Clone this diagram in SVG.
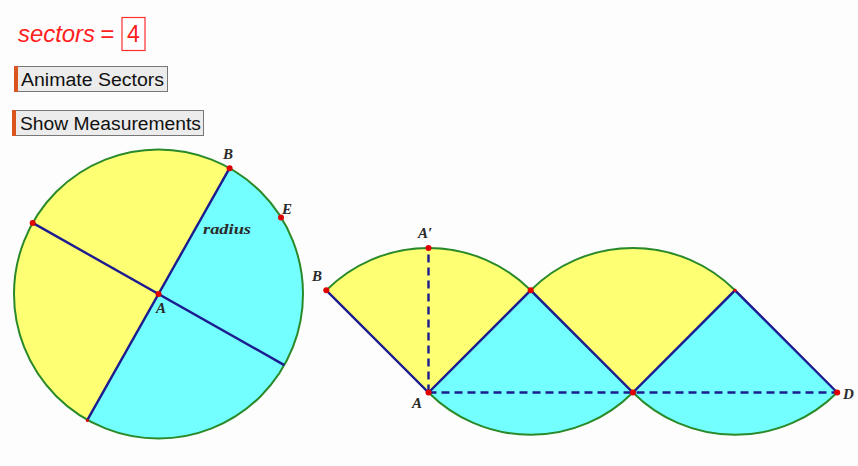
<svg xmlns="http://www.w3.org/2000/svg" width="858" height="466" viewBox="0 0 858 466">
<style>
.yel{fill:#ffff73;stroke:none}
.cyn{fill:#73ffff;stroke:none}
.arc{fill:none;stroke:#2a8a2a;stroke-width:2}
.seg{stroke:#1c1c90;stroke-width:2.4;fill:none}
.dash{stroke:#1c1c90;stroke-width:2.4;stroke-dasharray:8 5;fill:none}
.pt{fill:#e00000}
.lbl{font-family:"Liberation Serif",serif;font-style:italic;font-weight:bold;font-size:15px;fill:#2a2a2a}
.btn{fill:#ececec;stroke:#777;stroke-width:1}
.bar{fill:#d9541e}
.btxt{font-family:"Liberation Sans",Arial,sans-serif;font-size:18px;fill:#111}
</style>
<rect width="858" height="466" fill="#fdfdfd"/>
<g id="sectors-param">
<text x="18" y="42" font-family="Liberation Sans,Arial,sans-serif" font-style="italic" font-size="24" fill="#ff2020" textLength="77" lengthAdjust="spacingAndGlyphs">sectors</text>
<text x="100" y="42" font-family="Liberation Sans,Arial,sans-serif" font-style="italic" font-size="24" fill="#ff2020">=</text>
<rect x="122" y="17.5" width="23" height="33" fill="#fff" stroke="#ff3030" stroke-width="1.2"/>
<text x="133.5" y="42" text-anchor="middle" font-family="Liberation Sans,Arial,sans-serif" font-size="23" fill="#ff2020">4</text>
</g>
<g id="btn-animate">
<rect class="btn" x="14.5" y="66.5" width="153" height="25"/>
<rect class="bar" x="14" y="66" width="4" height="26"/>
<text class="btxt" x="21" y="86" textLength="143" lengthAdjust="spacingAndGlyphs">Animate Sectors</text>
</g>
<g id="btn-measure">
<rect class="btn" x="12.5" y="110.5" width="191" height="25"/>
<rect class="bar" x="12" y="110" width="4" height="26"/>
<text class="btxt" x="20" y="129.5" textLength="181" lengthAdjust="spacingAndGlyphs">Show Measurements</text>
</g>
<g id="circle">
<circle class="cyn" cx="158.5" cy="294" r="144.5"/>
<path class="yel" d="M229.6 168.2 A144.5 144.5 0 0 0 87.4 419.8 Z"/>
<circle class="arc" cx="158.5" cy="294" r="144.5"/>
</g>
<g id="connectors">
<line class="seg" x1="32.7" y1="222.9" x2="284.3" y2="365.1"/>
<line class="seg" x1="229.6" y1="168.2" x2="87.4" y2="419.8"/>
</g>
<g id="unrolled">
<path class="yel" d="M428.5 392.5 L326.3 290.3 A144.5 144.5 0 0 1 530.7 290.3 Z"/>
<path class="cyn" d="M530.7 290.3 L428.5 392.5 A144.5 144.5 0 0 0 632.9 392.5 Z"/>
<path class="yel" d="M632.9 392.5 L530.7 290.3 A144.5 144.5 0 0 1 735 290.3 Z"/>
<path class="cyn" d="M735 290.3 L632.9 392.5 A144.5 144.5 0 0 0 837.2 392.5 Z"/>
<path class="arc" d="M326.3 290.3 A144.5 144.5 0 0 1 530.7 290.3"/>
<path class="arc" d="M428.5 392.5 A144.5 144.5 0 0 0 632.9 392.5"/>
<path class="arc" d="M530.7 290.3 A144.5 144.5 0 0 1 735 290.3"/>
<path class="arc" d="M632.9 392.5 A144.5 144.5 0 0 0 837.2 392.5"/>
</g>
<g id="unrolled-edges">
<polyline class="seg" points="326.3,290.3 428.5,392.5 530.7,290.3 632.9,392.5 735,290.3 837.2,392.5"/>
<line class="dash" x1="428.5" y1="392.5" x2="428.5" y2="248"/>
<line class="dash" x1="428.5" y1="392.5" x2="837.2" y2="392.5"/>
</g>
<g id="points">
<circle class="pt" cx="229.6" cy="168.2" r="3"/>
<circle class="pt" cx="281" cy="217.4" r="3"/>
<circle class="pt" cx="32.7" cy="222.9" r="3"/>
<circle class="pt" cx="158.5" cy="294" r="3"/>
<circle class="pt" cx="87.4" cy="420.5" r="1.6"/>
<circle class="pt" cx="326.3" cy="290.3" r="3"/>
<circle class="pt" cx="428.5" cy="248" r="3"/>
<circle class="pt" cx="530.7" cy="290.3" r="3"/>
<circle class="pt" cx="428.5" cy="392.5" r="3"/>
<circle class="pt" cx="632.9" cy="392.5" r="3"/>
<circle class="pt" cx="735" cy="290.3" r="1.6"/>
<circle class="pt" cx="837.2" cy="392.5" r="3"/>
</g>
<g id="labels">
<text class="lbl" x="223" y="158.5">B</text>
<text class="lbl" x="282" y="214">E</text>
<text class="lbl" x="156" y="313">A</text>
<text class="lbl" x="203" y="233.5" font-size="17" textLength="48" lengthAdjust="spacingAndGlyphs">radius</text>
<text class="lbl" x="312" y="281">B</text>
<text class="lbl" x="418" y="238">A′</text>
<text class="lbl" x="412" y="407.5">A</text>
<text class="lbl" x="843" y="398.5">D</text>
</g>
</svg>
